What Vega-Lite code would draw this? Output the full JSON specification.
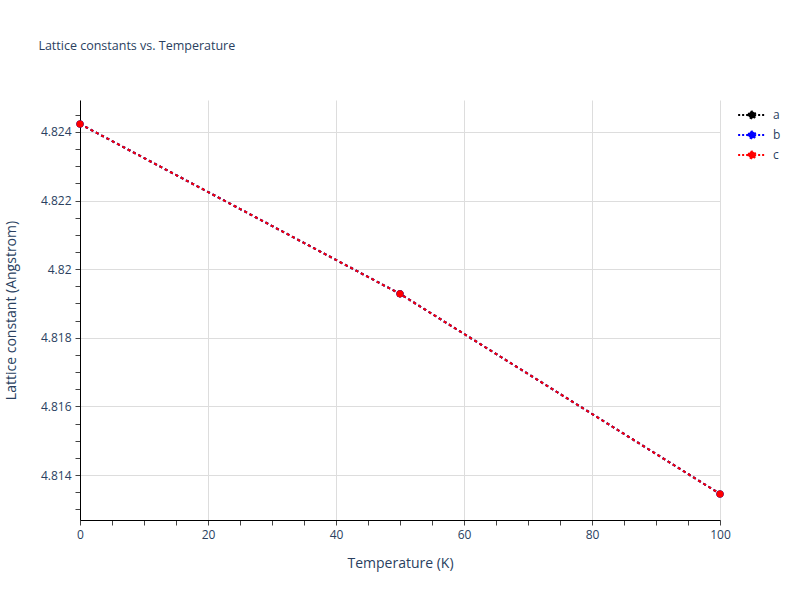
{
  "$schema": "https://vega.github.io/schema/vega-lite/v6.json",
  "width": 640,
  "height": 420,
  "autosize": "none",
  "padding": {"left": 80, "top": 100, "right": 80, "bottom": 80},
  "background": "white",
  "title": {
    "text": "Lattice constants vs. Temperature",
    "anchor": "start",
    "dx": 34,
    "offset": 48,
    "fontSize": 12.5,
    "fontWeight": "normal",
    "font": "Open Sans",
    "color": "#2a3f5f"
  },
  "config": {
    "view": {"stroke": null},
    "font": "Open Sans",
    "axis": {
      "domainColor": "#000000",
      "domainWidth": 1,
      "tickColor": "#444444",
      "tickSize": 5,
      "labelFont": "Open Sans",
      "labelFontSize": 12,
      "labelColor": "#2a3f5f",
      "titleFont": "Open Sans",
      "titleFontSize": 14,
      "titleFontWeight": "normal",
      "titleColor": "#2a3f5f",
      "gridColor": "#dddddd"
    }
  },
  "data": {
    "values": [
      {"series": "a", "temperature": 0, "lattice": 4.82423},
      {"series": "a", "temperature": 50, "lattice": 4.81928},
      {"series": "a", "temperature": 100, "lattice": 4.81345},
      {"series": "b", "temperature": 0, "lattice": 4.82423},
      {"series": "b", "temperature": 50, "lattice": 4.81928},
      {"series": "b", "temperature": 100, "lattice": 4.81345},
      {"series": "c", "temperature": 0, "lattice": 4.82423},
      {"series": "c", "temperature": 50, "lattice": 4.81928},
      {"series": "c", "temperature": 100, "lattice": 4.81345}
    ]
  },
  "mark": {
    "type": "line",
    "strokeDash": [3, 3],
    "strokeWidth": 2,
    "point": {"filled": true, "size": 50, "opacity": 1},
    "clip": false
  },
  "encoding": {
    "x": {
      "field": "temperature",
      "type": "quantitative",
      "title": "Temperature (K)",
      "scale": {"domain": [0, 100], "nice": false, "zero": false},
      "axis": {
        "values": [0, 5, 10, 15, 20, 25, 30, 35, 40, 45, 50, 55, 60, 65, 70, 75, 80, 85, 90, 95, 100],
        "labelExpr": "datum.value % 20 === 0 ? datum.label : ''",
        "labelFlush": false,
        "labelPadding": 4,
        "titlePadding": 16,
        "gridOpacity": {"condition": {"test": "datum.value % 20 === 0", "value": 1}, "value": 0}
      }
    },
    "y": {
      "field": "lattice",
      "type": "quantitative",
      "title": "Lattice constant (Angstrom)",
      "scale": {"domain": [4.81269, 4.82493], "nice": false, "zero": false},
      "axis": {
        "values": [4.813, 4.8135, 4.814, 4.8145, 4.815, 4.8155, 4.816, 4.8165, 4.817, 4.8175, 4.818, 4.8185, 4.819, 4.8195, 4.82, 4.8205, 4.821, 4.8215, 4.822, 4.8225, 4.823, 4.8235, 4.824, 4.8245],
        "labelExpr": "abs(datum.value * 500 - round(datum.value * 500)) < 0.01 ? format(datum.value, '.3~f') : ''",
        "labelFlush": false,
        "labelPadding": 4,
        "titlePadding": 22,
        "gridOpacity": {"condition": {"test": "abs(datum.value * 500 - round(datum.value * 500)) < 0.01", "value": 1}, "value": 0}
      }
    },
    "color": {
      "field": "series",
      "type": "nominal",
      "title": null,
      "scale": {"domain": ["a", "b", "c"], "range": ["#000000", "#0000ff", "#ff0000"]},
      "legend": {
        "orient": "none",
        "legendX": 662,
        "legendY": 5,
        "symbolType": "M-1.6,0L1.6,0M-0.4,0A0.4,0.4 0 1,1 0.4,0A0.4,0.4 0 1,1 -0.4,0Z",
        "symbolSize": 300,
        "symbolStrokeWidth": 2,
        "symbolDash": [2, 2],
        "labelOffset": 11,
        "labelFontSize": 12,
        "labelColor": "#2a3f5f",
        "labelFont": "Open Sans",
        "rowPadding": 2,
        "encode": {
          "symbols": {"update": {"fill": {"scale": "color", "field": "value"}, "fillOpacity": {"value": 1}}}
        }
      }
    }
  }
}
